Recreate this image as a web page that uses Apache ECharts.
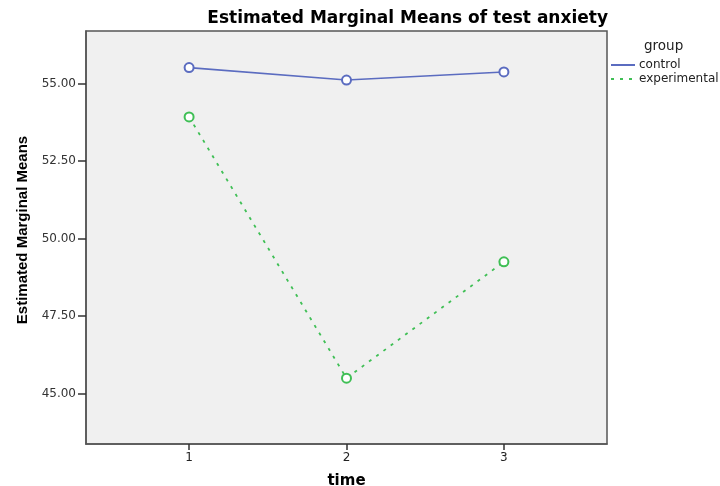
<!DOCTYPE html>
<html>
<head>
<meta charset="utf-8">
<script src="https://cdn.jsdelivr.net/npm/echarts@6/dist/echarts.min.js"></script>
<style>html,body{margin:0;padding:0;background:#fff}#c{width:720px;height:486px}</style>
</head>
<body>
<div id="c"></div>
<script>
const timePoints = [1, 2, 3];
const controlValues = [55.51, 55.11, 55.37];
const experimentalValues = [53.92, 45.50, 49.25];
const yTicks = [45, 47.5, 50, 52.5, 55];
const groupNames = ['control', 'experimental'];

const chart = echarts.init(document.getElementById('c'), null, {renderer: 'canvas'});
const font = 'DejaVu Sans, sans-serif';
chart.setOption({
  backgroundColor: '#ffffff',
  animation: false,
  title: [{
    text: 'Estimated Marginal Means of test anxiety',
    right: 107, top: 5,
    textStyle: {fontFamily: font, fontWeight: 'bold', fontSize: 17, color: '#000'}
  }, {
    text: 'group',
    left: 639, top: 34,
    textStyle: {fontFamily: font, fontWeight: 'normal', fontSize: 13.5, color: '#222'}
  }],
  legend: {
    orient: 'vertical',
    left: 605, top: 54,
    itemWidth: 24, itemHeight: 8, itemGap: 2,
    data: groupNames,
    itemStyle: {opacity: 0},
    textStyle: {fontFamily: font, fontSize: 12, lineHeight: 12, color: '#222', padding: [0, 0, 0, -1]}
  },
  grid: {
    left: 86, right: 113, top: 31, bottom: 42,
    outerBoundsMode: 'none', containLabel: false,
    show: true, backgroundColor: '#f0f0f0', borderColor: '#555', borderWidth: 1.5
  },
  xAxis: {
    type: 'value', min: 0.345, max: 3.655,
    name: 'time', nameLocation: 'middle', nameGap: 30,
    nameTextStyle: {fontFamily: font, fontWeight: 'bold', fontSize: 15, color: '#000'},
    axisLine: {show: true, lineStyle: {color: '#555', width: 1.5}},
    axisTick: {show: true, customValues: timePoints, length: 6, lineStyle: {color: '#333', width: 1.5}},
    axisLabel: {customValues: timePoints, fontFamily: font, fontSize: 12, color: '#222', margin: 8,
      formatter: v => String(v)},
    splitLine: {show: false}
  },
  yAxis: {
    type: 'value', min: 43.38, max: 56.69,
    name: 'Estimated Marginal Means', nameLocation: 'middle', nameGap: 56, nameRotate: 90,
    nameTextStyle: {fontFamily: 'Liberation Sans Narrow, Liberation Sans, Arial, sans-serif', fontWeight: 'bold', fontSize: 15, color: '#000', padding: [0, 0, 0, 15]},
    axisLine: {show: true, lineStyle: {color: '#555', width: 1.5}},
    axisTick: {show: true, customValues: yTicks, length: 8, lineStyle: {color: '#333', width: 1.5}},
    axisLabel: {customValues: yTicks, fontFamily: font, fontSize: 12, color: '#333', margin: 10,
      formatter: v => v.toFixed(2)},
    splitLine: {show: false}
  },
  series: [{
    name: groupNames[0], type: 'line',
    data: timePoints.map((t, i) => [t, controlValues[i]]),
    symbol: 'emptyCircle', symbolSize: 9,
    lineStyle: {color: '#5b6cc0', width: 1.6},
    itemStyle: {color: '#5b6cc0', borderWidth: 1.5}
  }, {
    name: groupNames[1], type: 'line',
    data: timePoints.map((t, i) => [t, experimentalValues[i]]),
    symbol: 'emptyCircle', symbolSize: 9,
    lineStyle: {color: '#3fbf55', width: 1.8, type: [3, 6]},
    itemStyle: {color: '#3fbf55', borderWidth: 1.5}
  }]
});
</script>
</body>
</html>
